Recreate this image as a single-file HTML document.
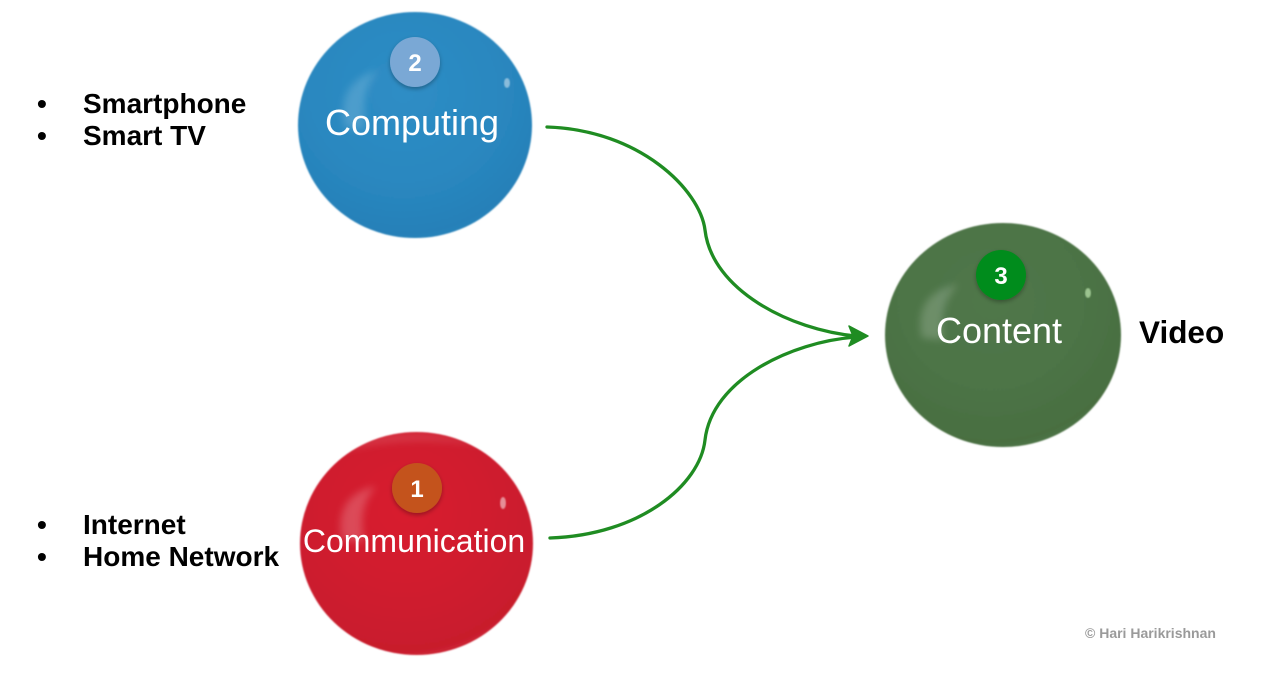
<!DOCTYPE html>
<html>
<head>
<meta charset="utf-8">
<style>
  html,body{margin:0;padding:0;background:#fff;}
  body{width:1282px;height:696px;overflow:hidden;}
  svg{display:block;}
</style>
</head>
<body>
<svg width="1282" height="696" viewBox="0 0 1282 696" xmlns="http://www.w3.org/2000/svg">
  <defs>
    <radialGradient id="gBlue" cx="0.45" cy="0.35" r="0.7">
      <stop offset="0" stop-color="#2E8DC5"/>
      <stop offset="0.6" stop-color="#2987BF"/>
      <stop offset="0.9" stop-color="#2680B8"/>
      <stop offset="1" stop-color="#2C86BC"/>
    </radialGradient>
    <radialGradient id="gRed" cx="0.45" cy="0.35" r="0.7">
      <stop offset="0" stop-color="#D81E2E"/>
      <stop offset="0.6" stop-color="#CE1E2E"/>
      <stop offset="0.9" stop-color="#C81C2C"/>
      <stop offset="1" stop-color="#D23040"/>
    </radialGradient>
    <radialGradient id="gGreen" cx="0.45" cy="0.35" r="0.7">
      <stop offset="0" stop-color="#50774A"/>
      <stop offset="0.6" stop-color="#4C7345"/>
      <stop offset="0.9" stop-color="#486E41"/>
      <stop offset="1" stop-color="#557C4D"/>
    </radialGradient>
    <filter id="soft" x="-5%" y="-5%" width="110%" height="110%">
      <feGaussianBlur stdDeviation="0.9"/>
    </filter>
    <filter id="blur3" x="-30%" y="-30%" width="160%" height="160%">
      <feGaussianBlur stdDeviation="4"/>
    </filter>
    <filter id="shadow" x="-30%" y="-30%" width="160%" height="170%">
      <feDropShadow dx="0" dy="2" stdDeviation="2" flood-color="#000" flood-opacity="0.3"/>
    </filter>
  </defs>

  <!-- Blue sphere -->
  <ellipse cx="415" cy="125" rx="117" ry="113" fill="url(#gBlue)" filter="url(#soft)"/>
  <path d="M345 128 C338 98 350 78 378 70 C364 88 362 104 366 130 Z" fill="#fff" opacity="0.16" filter="url(#blur3)"/>
  <ellipse cx="507" cy="83" rx="3" ry="5" fill="#fff" opacity="0.45" filter="url(#soft)"/>

  <!-- Red sphere -->
  <ellipse cx="416.5" cy="543.5" rx="116.5" ry="111.5" fill="url(#gRed)" filter="url(#soft)"/>
  <path d="M338 445 Q416 420 495 448 Q416 432 338 452 Z" fill="#fff" opacity="0.12" filter="url(#blur3)"/>
  <path d="M342 540 C336 510 348 492 376 486 C363 502 360 516 364 542 Z" fill="#fff" opacity="0.2" filter="url(#blur3)"/>
  <ellipse cx="503" cy="503" rx="3" ry="6" fill="#fff" opacity="0.5" filter="url(#soft)"/>

  <!-- Green sphere -->
  <ellipse cx="1003" cy="335" rx="118" ry="112" fill="url(#gGreen)" filter="url(#soft)"/>
  <path d="M922 338 C916 308 928 290 958 284 C944 300 940 316 944 340 Z" fill="#fff" opacity="0.18" filter="url(#blur3)"/>
  <ellipse cx="1088" cy="293" rx="3" ry="5" fill="#C8F0B8" opacity="0.65" filter="url(#soft)"/>

  <!-- Badges -->
  <circle cx="415" cy="62" r="25" fill="#7AA8D5" filter="url(#shadow)"/>
  <text x="415" y="71" text-anchor="middle" font-family="Liberation Sans, sans-serif" font-weight="bold" font-size="24" fill="#fff">2</text>

  <circle cx="417" cy="488" r="25" fill="#C4521F" filter="url(#shadow)"/>
  <text x="417" y="497" text-anchor="middle" font-family="Liberation Sans, sans-serif" font-weight="bold" font-size="24" fill="#fff">1</text>

  <circle cx="1001" cy="275" r="25" fill="#008C1A" filter="url(#shadow)"/>
  <text x="1001" y="284" text-anchor="middle" font-family="Liberation Sans, sans-serif" font-weight="bold" font-size="24" fill="#fff">3</text>

  <!-- Sphere labels -->
  <text x="412" y="135" text-anchor="middle" font-family="Liberation Sans, sans-serif" font-size="36" fill="#fff">Computing</text>
  <text x="414" y="552" text-anchor="middle" font-family="Liberation Sans, sans-serif" font-size="32" fill="#fff">Communication</text>
  <text x="999" y="343" text-anchor="middle" font-family="Liberation Sans, sans-serif" font-size="36" fill="#fff">Content</text>

  <!-- Connectors -->
  <g fill="none" stroke="#1F8C22" stroke-width="3.3" stroke-linecap="round">
    <path d="M547 127 C640 130 700 190 705 230 C712 290 790 330 856 336"/>
    <path d="M550 538 C640 535 700 485 705 440 C712 380 790 342 856 337"/>
  </g>
  <path d="M868 336 L849 326 L853 336 L849 346 Z" fill="#1F8C22" stroke="#1F8C22" stroke-width="1.5" stroke-linejoin="round"/>

  <!-- Bullet lists -->
  <g font-family="Liberation Sans, sans-serif" font-weight="bold" font-size="28" fill="#000">
    <text x="37" y="113">•</text>
    <text x="83" y="113">Smartphone</text>
    <text x="37" y="145">•</text>
    <text x="83" y="145">Smart TV</text>
    <text x="37" y="534">•</text>
    <text x="83" y="534">Internet</text>
    <text x="37" y="566">•</text>
    <text x="83" y="566">Home Network</text>
  </g>
  <text x="1139" y="343" font-family="Liberation Sans, sans-serif" font-weight="bold" font-size="31.5" fill="#000">Video</text>

  <text x="1085" y="638" font-family="Liberation Sans, sans-serif" font-weight="bold" font-size="14" fill="#9A9A9A">© Hari Harikrishnan</text>
</svg>
</body>
</html>
